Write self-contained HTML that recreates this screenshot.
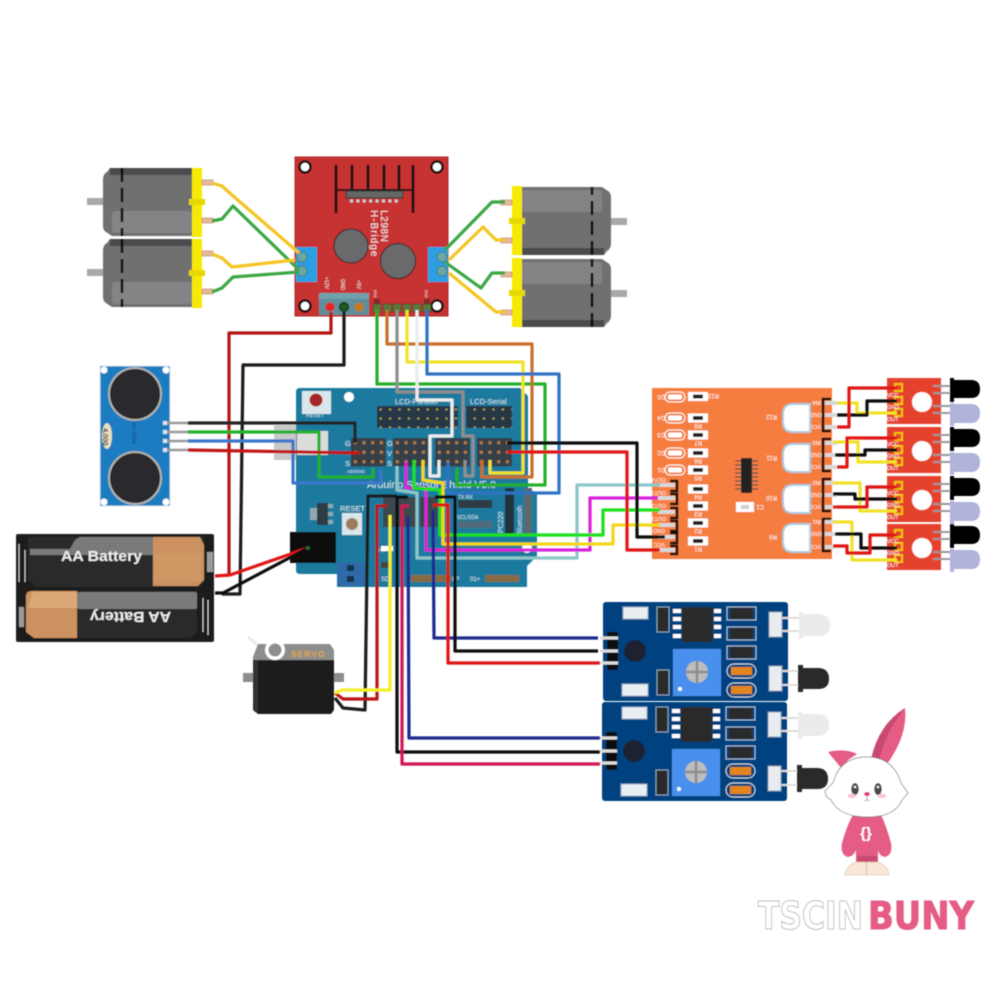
<!DOCTYPE html>
<html><head><meta charset="utf-8"><style>
html,body{margin:0;padding:0;background:#fff}
svg{display:block}
text{font-family:"Liberation Sans",sans-serif}
</style></head><body>
<svg width="1000" height="1000" viewBox="0 0 1000 1000" xmlns="http://www.w3.org/2000/svg">
<defs>
<filter id="b" x="-5%" y="-5%" width="110%" height="110%"><feGaussianBlur stdDeviation="0.55"/></filter>
<g id="motor">
<rect x="87" y="198" width="17" height="7" fill="#a8a8a8"/>
<path d="M103,180 Q103,174 107,172 L110,168 H192 V236 H112 L106,232 Q103,230 103,226Z" fill="#6f6f71"/>
<rect x="110" y="168" width="82" height="7" fill="#4b4b4d"/>
<rect x="112" y="211" width="80" height="22" rx="3" fill="#848486"/>
<line x1="122" y1="168" x2="122" y2="236" stroke="#111" stroke-width="2.6" stroke-dasharray="14 6"/>
<rect x="192" y="168" width="10" height="69" fill="#f7e900"/>
<rect x="189" y="199" width="16" height="6" fill="#e6d800"/>
<rect x="202" y="180" width="11" height="5" fill="#e8b89c" stroke="#b5805f" stroke-width=".6"/>
<rect x="202" y="218" width="11" height="5" fill="#e8b89c" stroke="#b5805f" stroke-width=".6"/>
</g>
<pattern id="pins" width="8.7" height="9.5" patternUnits="userSpaceOnUse">
<rect width="8.7" height="9.5" fill="#34404a"/>
<circle cx="4.3" cy="4.7" r="1.7" fill="#b5793f"/>
</pattern>
<pattern id="dots" width="9.4" height="9" patternUnits="userSpaceOnUse">
<rect width="9.4" height="9" fill="#263744"/>
<circle cx="4.7" cy="4.5" r="1.1" fill="#c4a64a"/>
</pattern>
<g id="ir">
<rect x="0" y="0" width="54" height="46" fill="#e5432e"/>
<circle cx="35" cy="24" r="10" fill="#fff"/>
<rect x="8" y="6" width="7" height="7" fill="none" stroke="#f2c200" stroke-width="2"/>
<rect x="8" y="19" width="7" height="7" fill="none" stroke="#f2c200" stroke-width="2"/>
<rect x="8" y="31" width="7" height="7" fill="none" stroke="#f2c200" stroke-width="2"/>
<g stroke="#999" stroke-width="2">
<line x1="46" y1="8" x2="64" y2="8"/><line x1="46" y1="15" x2="64" y2="15"/>
<line x1="46" y1="28" x2="64" y2="28"/><line x1="46" y1="35" x2="64" y2="35"/>
</g>
<path d="M63,0 H67 V2 H84 Q93,2 93,11 Q93,20 84,20 H67 V24 H63Z" fill="#050505"/>
<path d="M63,25 H67 V26 H84 Q93,26 93,35 Q93,45 84,45 H67 V48 H63Z" fill="#b0b3da"/>
</g>
<g id="sensor">
<rect x="603" y="602" width="185" height="99" rx="3" fill="#04427f"/>
<rect x="623" y="607" width="25" height="12" fill="#e9eef3" stroke="#8ba3bb"/>
<rect x="622" y="684" width="26" height="12" fill="#e9eef3" stroke="#8ba3bb"/>
<circle cx="635" cy="651" r="11" fill="#1b2430"/>
<rect x="607" y="632" width="11" height="38" rx="2" fill="#0a0a0a"/>
<g fill="#ddd"><rect x="600" y="636.500" width="18" height="3"/><rect x="600" y="649.500" width="18" height="3"/><rect x="600" y="661.500" width="18" height="3"/></g>
<rect x="657" y="607" width="12" height="25" fill="#2b2b2b" stroke="#8ba3bb"/>
<rect x="657" y="670" width="12" height="25" fill="#2b2b2b" stroke="#8ba3bb"/>
<rect x="682" y="607" width="31" height="35" rx="1" fill="#2b2b2b"/>
<g fill="#fff">
<rect x="673" y="609" width="8" height="4"/><rect x="673" y="617" width="8" height="4"/><rect x="673" y="625" width="8" height="4"/><rect x="673" y="634" width="8" height="4"/>
<rect x="714" y="609" width="7" height="4"/><rect x="714" y="617" width="7" height="4"/><rect x="714" y="625" width="7" height="4"/><rect x="714" y="634" width="7" height="4"/>
</g>
<rect x="673" y="649" width="48" height="47" fill="#4a90ee"/>
<circle cx="697" cy="672" r="11" fill="#bdbdbd"/>
<path d="M697,661 V683 M686,672 H708" stroke="#8c8c8c" stroke-width="2.500"/>
<circle cx="680" cy="689" r="2" fill="#fff"/>
<g fill="none" stroke="#a9bccd">
<rect x="727" y="607" width="29" height="13"/><rect x="727" y="627" width="29" height="13"/><rect x="727" y="646" width="29" height="13"/>
</g>
<g fill="#2b2b2b">
<rect x="730" y="608" width="23" height="11"/><rect x="730" y="628" width="23" height="11"/><rect x="730" y="647" width="23" height="11"/>
</g>
<g fill="none" stroke="#cfd8e0">
<rect x="727" y="664" width="29" height="14" rx="7"/><rect x="727" y="683" width="29" height="14" rx="7"/>
</g>
<rect x="731" y="667" width="21" height="8" fill="#e2851f"/><rect x="731" y="686" width="21" height="8" fill="#e2851f"/>
<rect x="769" y="612" width="13" height="25" fill="#e8ecf0" stroke="#7e9ab6"/>
<rect x="769" y="666" width="13" height="25" fill="#e8ecf0" stroke="#7e9ab6"/>
<line x1="782" y1="618" x2="802" y2="618" stroke="#ddd" stroke-width="2"/><line x1="782" y1="631" x2="802" y2="631" stroke="#ddd" stroke-width="2"/>
<line x1="782" y1="671" x2="800" y2="671" stroke="#ddd" stroke-width="2"/><line x1="782" y1="685" x2="800" y2="685" stroke="#ddd" stroke-width="2"/>
<path d="M799,612 H803 V614 H818 Q830,614 830,625 Q830,636 818,636 H803 V639 H799Z" fill="#ebebeb"/>
<path d="M798,665 H803 V668 H818 Q829,668 829,679 Q829,689 818,689 H803 V692 H798Z" fill="#2b2b2b"/>
</g>
</defs>
<rect width="1000" height="1000" fill="#fff"/>
<g filter="url(#b)">

<!-- motors -->
<use href="#motor"/>
<use href="#motor" y="71"/>
<use href="#motor" transform="translate(714,423) scale(-1,-1)"/>
<use href="#motor" transform="translate(714,495) scale(-1,-1)"/>

<!-- L298 -->
<rect x="295" y="157" width="153" height="159" fill="#c73031" stroke="#a82527"/>
<g fill="#fff" stroke="#111" stroke-width="2.500">
<circle cx="305" cy="167" r="5.500"/><circle cx="437" cy="167" r="5.500"/><circle cx="305" cy="306" r="5.500"/><circle cx="437" cy="306" r="5.500"/>
</g>
<g stroke="#151515" stroke-width="3">
<line x1="336" y1="165" x2="336" y2="213"/><line x1="352" y1="165" x2="352" y2="191"/><line x1="368" y1="165" x2="368" y2="191"/><line x1="384" y1="165" x2="384" y2="191"/><line x1="399" y1="165" x2="399" y2="191"/><line x1="413" y1="165" x2="413" y2="213"/>
<line x1="336" y1="190" x2="413" y2="190" stroke-width="2"/>
</g>
<rect x="346" y="191" width="57" height="7" fill="#666" stroke="#333"/>
<line x1="350" y1="201" x2="400" y2="201" stroke="#ccc" stroke-width="3" stroke-dasharray="3 3.400"/>
<circle cx="351" cy="246" r="17" fill="#6b6b6d" stroke="#222"/>
<circle cx="398" cy="261" r="17.500" fill="#6b6b6d" stroke="#222"/>
<text transform="translate(381,210) rotate(90)" font-size="10" fill="#eee" letter-spacing=".6">L298N</text>
<text transform="translate(371,210) rotate(90)" font-size="10" fill="#eee" letter-spacing="1">H-Bridge</text>
<rect x="296" y="247" width="21" height="35" fill="#2b9fe3"/>
<rect x="428" y="247" width="20" height="35" fill="#2b9fe3"/>
<g fill="#6aa8a6" stroke="#4a7f80"><circle cx="302" cy="257" r="5"/><circle cx="302" cy="271" r="5"/><circle cx="442" cy="257" r="5"/><circle cx="442" cy="271" r="5"/></g>
<rect x="319" y="293" width="50" height="22" fill="#5f8d99"/>
<rect x="319" y="293" width="50" height="6" fill="#6fa0aa"/>
<circle cx="330" cy="307" r="4.500" fill="#e62020"/><circle cx="344" cy="307" r="4.500" fill="#1c5a22" stroke="#111"/><circle cx="359" cy="307" r="4.500" fill="#c8791a"/>
<g fill="#eee" font-size="5">
<text transform="translate(325,277) rotate(90)">+12V</text><text transform="translate(341,279) rotate(90)">GND</text><text transform="translate(357,280) rotate(90)">+5V</text>
<text transform="translate(374,290) rotate(90)" font-size="4">EN1</text><text transform="translate(425,290) rotate(90)" font-size="4">EN2</text>
</g>
<rect x="374" y="299" width="6" height="6" fill="#7d2a2a"/><rect x="424" y="299" width="6" height="6" fill="#7d2a2a"/>
<g fill="#5a7a3a" stroke="#333" stroke-width=".5"><rect x="373" y="304" width="8" height="8"/><rect x="383.500" y="304" width="8" height="8"/><rect x="393" y="304" width="8" height="8"/><rect x="403" y="304" width="8" height="8"/><rect x="413" y="304" width="8" height="8"/><rect x="423" y="304" width="8" height="8"/></g>

<!-- motor wires -->
<g fill="none" stroke-width="3.2" stroke-linejoin="round">
<path d="M212,183 L222,186 L232,195 L299,253" stroke="#f4c524"/>
<path d="M212,221 L222,219 L233,206 L299,270" stroke="#3aa745"/>
<path d="M212,254 L222,258 L232,267 L295,260" stroke="#f4c524"/>
<path d="M212,292 L222,288 L233,277 L299,272" stroke="#3aa745"/>
<path d="M505,202 H492 L445,250" stroke="#3aa745"/>
<path d="M505,240 H496 L483,227 L449,260" stroke="#f4c524"/>
<path d="M505,273 H492 L481,288 L445,262" stroke="#3aa745"/>
<path d="M505,312 H496 L449,273" stroke="#f4c524"/>
</g>

<!-- shield -->
<rect x="274" y="425" width="54" height="35" fill="#c9c9c9"/>
<path d="M296,392 Q296,388 300,388 H520 L528,396 V490 L537,492 V556 L527,566 V587 H337 V574 H300 Q296,574 296,570Z" fill="#1a7a9f"/>
<rect x="297" y="431" width="31" height="24" fill="#dcdcdc"/>
<rect x="302" y="391" width="29" height="23" fill="#d9e6ea"/>
<circle cx="316" cy="400" r="6.500" fill="#a8272a"/>
<text x="306" y="417" font-size="5.500" fill="#cfe3ea">RESET</text>
<circle cx="349" cy="397" r="5" fill="#fff"/>
<rect x="377" y="406" width="81" height="22" fill="#263744"/>
<rect x="377" y="406" width="81" height="22" fill="url(#dots)" transform="translate(0,0)"/>
<rect x="466" y="406" width="46" height="22" fill="url(#dots)"/>
<text x="395" y="404" font-size="7.500" fill="#cfe3ea">LCD-Parallel</text>
<text x="470" y="404" font-size="7.500" fill="#cfe3ea">LCD-Serial</text>
<g transform="translate(351,438)"><rect width="34.800" height="28.500" fill="url(#pins)"/></g>
<g transform="translate(393,438)"><rect width="34.800" height="28.500" fill="url(#pins)"/></g>
<g transform="translate(435,438)"><rect width="34.800" height="28.500" fill="url(#pins)"/></g>
<g transform="translate(477,438)"><rect width="34.800" height="28.500" fill="url(#pins)"/></g>
<g font-size="7.500" fill="#d5e8ee">
<text x="345" y="446">G</text><text x="345" y="466">S</text><text x="387" y="446">G</text><text x="387" y="456">V</text><text x="387" y="466">S</text>
<text x="347" y="473" font-size="4.500">ABI/END</text>
<text x="367" y="488" font-size="10.500">Arduino Sensor Shield V5.0</text>
<text x="340" y="511" font-size="7.500">RESET</text>
<text x="458" y="499" font-size="5">TX RX</text><text x="457" y="519" font-size="5">SCL/SDA</text>
<text transform="translate(503,533) rotate(-90)" font-size="7">PC220</text>
<text transform="translate(522,535) rotate(-90)" font-size="7">Bluetooth</text>
<text x="381" y="581" font-size="6">SD</text><text x="452" y="581" font-size="6">IIP</text><text x="470" y="581" font-size="6">01+</text>
<text x="378" y="552" font-size="4.500">Pwr</text>
</g>
<rect x="317" y="503" width="11" height="22" fill="#2d3b44"/>
<rect x="310" y="508" width="7" height="12" fill="#8fa8b0"/>
<g fill="#8fa8b0"><rect x="328" y="504" width="5" height="4"/><rect x="328" y="512" width="5" height="4"/><rect x="328" y="520" width="5" height="4"/></g>
<rect x="342" y="513" width="20" height="22" fill="#d9e6ea"/>
<circle cx="352" cy="524" r="6" fill="#a07a5c"/>
<rect x="290" y="532" width="46" height="31" fill="#111"/>
<rect x="337" y="562" width="28" height="24" fill="#2d6aa8"/>
<rect x="347" y="565" width="7" height="6" fill="#18324e"/><rect x="347" y="576" width="7" height="6" fill="#18324e"/>
<rect x="383" y="497" width="36" height="30" fill="#3b4850"/>
<rect x="420" y="497" width="18" height="30" fill="#3b4850"/>
<rect x="458" y="500" width="34" height="8" fill="#2d3b44"/>
<rect x="458" y="521" width="34" height="7" fill="#4f6a78"/>
<rect x="505" y="488" width="9" height="47" fill="#22303a"/>
<rect x="524" y="488" width="8" height="47" fill="#5a6a70"/>
<g fill="#8a6a44"><rect x="411" y="575" width="40" height="7"/><rect x="485" y="575" width="34" height="7"/></g>
<circle cx="527" cy="548" r="5" fill="#fff"/>
<rect x="381" y="546" width="12" height="5" fill="#fff"/>
<rect x="381" y="562" width="10" height="6" fill="#444"/>

<!-- ultrasonic -->
<rect x="100" y="366" width="70" height="140" fill="#1c7cc2" stroke="#dfe9f1" stroke-width=".8"/>
<g fill="#fff"><circle cx="104" cy="370" r="3.500"/><circle cx="166" cy="370" r="3.500"/><circle cx="104" cy="502" r="3.500"/><circle cx="166" cy="502" r="3.500"/></g>
<circle cx="135" cy="394" r="26" fill="#2b2b2d" stroke="#b3b3ad" stroke-width="2"/>
<circle cx="135" cy="478" r="26" fill="#2b2b2d" stroke="#b3b3ad" stroke-width="2"/>
<ellipse cx="107" cy="436" rx="5" ry="13" fill="#e8dfbf"/>
<text transform="translate(103,428) rotate(90)" font-size="7" fill="#333" font-weight="bold">4.000</text>
<text transform="translate(132,422) rotate(90)" font-size="5" fill="#0d3d66">HC-SR04</text>
<g fill="#dbe6ee"><rect x="163" y="421" width="4" height="4"/><rect x="163" y="430" width="4" height="4"/><rect x="163" y="439" width="4" height="4"/><rect x="163" y="448" width="4" height="4"/></g>
<g stroke="#999" stroke-width="2.500"><line x1="167" y1="423" x2="188" y2="423"/><line x1="167" y1="432" x2="188" y2="432"/><line x1="167" y1="441" x2="188" y2="441"/><line x1="167" y1="450" x2="188" y2="450"/></g>

<!-- battery -->
<rect x="16" y="534" width="198" height="108" rx="2" fill="#1a1a1a"/>
<path d="M28,541 Q28,537 32,537 H204 V580 L198,587 H36 L28,580Z" fill="#2c2c2c"/>
<path d="M153,537 H200 L204,545 V580 L198,586 H153Z" fill="#cb9160"/>
<path d="M75,540 L80,537 H153 V555 H30 V549 H70Z" fill="#7a7a7a"/>
<rect x="153" y="553" width="48" height="28" fill="#cf9764"/>
<text x="61" y="561" font-size="15" fill="#eee" textLength="81" font-weight="bold" lengthAdjust="spacingAndGlyphs">AA Battery</text>
<path d="M26,596 Q26,591 32,591 H197 V632 L190,638 H34 L26,632Z" fill="#2c2c2c"/>
<path d="M26,596 Q26,591 32,591 H77 V638 H34 L26,632Z" fill="#cb9160"/>
<path d="M32,592 H77 V608 H28Z" fill="#dba878"/>
<rect x="77" y="592" width="120" height="17" rx="2" fill="#7a7a7a"/>
<text transform="translate(171,612) rotate(180)" font-size="15" fill="#eee" textLength="81" font-weight="bold" lengthAdjust="spacingAndGlyphs">AA Battery</text>
<g stroke="#ccc" stroke-width="1" fill="none">
<path d="M19,544 V582 M25,550 V582 M208,600 V635 M203,598 V632"/>
</g>
<rect x="207" y="552" width="6" height="20" fill="#9a9a9a"/><rect x="19" y="607" width="5" height="20" fill="#9a9a9a"/>

<!-- servo -->
<path d="M248,637 L267,653" stroke="#e8e8e8" stroke-width="2.500"/>
<path d="M253,657 L258,644 H330 L334,650 V662 H253Z" fill="#8d8d8d"/>
<rect x="243" y="673" width="101" height="9" fill="#8d8d8d"/>
<path d="M253,660 H334 V710 L331,714 H258 L253,710Z" fill="#1b1b1b"/>
<path d="M253,660 H258 V714 L253,710Z" fill="#333"/>
<circle cx="275" cy="650" r="10" fill="#fff"/><circle cx="275" cy="650" r="6.500" fill="#8d8d8d"/>
<text x="291" y="657" font-size="8.500" font-weight="bold" fill="#e2a92e" letter-spacing="1">SERVO</text>

<!-- line-follower board -->
<rect x="652" y="388" width="180" height="171" fill="#f67d3f"/>
<g fill="none" stroke="#fff" stroke-width="1">
<rect x="665" y="392" width="20" height="10" rx="5"/><rect x="665" y="413" width="20" height="10" rx="5"/><rect x="665" y="430" width="20" height="10" rx="5"/><rect x="665" y="448" width="20" height="10" rx="5"/><rect x="665" y="465" width="20" height="10" rx="5"/>
</g>
<g fill="#fff">
<rect x="668" y="394.500" width="14" height="5" rx="2"/><rect x="668" y="415.500" width="14" height="5" rx="2"/><rect x="668" y="432.500" width="14" height="5" rx="2"/><rect x="668" y="450.500" width="14" height="5" rx="2"/><rect x="668" y="467.500" width="14" height="5" rx="2"/>
</g>
<g fill="#fff">
<rect x="688" y="392" width="20" height="9"/><rect x="688" y="413.500" width="20" height="9"/><rect x="688" y="430.500" width="20" height="9"/><rect x="688" y="448.500" width="20" height="9"/><rect x="688" y="465.500" width="20" height="9"/><rect x="688" y="484.500" width="20" height="9"/><rect x="688" y="501.500" width="20" height="9"/><rect x="688" y="518.500" width="20" height="9"/><rect x="688" y="536.500" width="20" height="9"/>
</g>
<g fill="#222">
<rect x="693" y="394.500" width="10" height="4"/><rect x="693" y="416" width="10" height="4"/><rect x="693" y="433" width="10" height="4"/><rect x="693" y="451" width="10" height="4"/><rect x="693" y="468" width="10" height="4"/><rect x="693" y="487" width="10" height="4"/><rect x="693" y="504" width="10" height="4"/><rect x="693" y="521" width="10" height="4"/><rect x="693" y="539" width="10" height="4"/>
</g>
<g font-size="6" fill="#fff">
<g transform="rotate(180 660 397)"><text x="655" y="399">D5</text></g>
<g transform="rotate(180 660 418)"><text x="655" y="420">D4</text></g>
<g transform="rotate(180 660 435)"><text x="655" y="437">D3</text></g>
<g transform="rotate(180 660 453)"><text x="655" y="455">D2</text></g>
<g transform="rotate(180 660 470)"><text x="655" y="472">D1</text></g>
<g transform="rotate(180 714 396)"><text x="709" y="398">R13</text></g>
<g transform="rotate(180 698 426)"><text x="694" y="428">R8</text></g>
<g transform="rotate(180 698 443)"><text x="694" y="445">R7</text></g>
<g transform="rotate(180 698 461)"><text x="694" y="463">R6</text></g>
<g transform="rotate(180 698 478)"><text x="694" y="480">R5</text></g>
<g transform="rotate(180 698 497)"><text x="694" y="499">R4</text></g>
<g transform="rotate(180 698 514)"><text x="694" y="516">R3</text></g>
<g transform="rotate(180 698 531)"><text x="694" y="533">R2</text></g>
<g transform="rotate(180 698 549)"><text x="694" y="551">R1</text></g>
<g transform="rotate(180 771 417)"><text x="765" y="419">R12</text></g>
<g transform="rotate(180 771 458)"><text x="765" y="460">R11</text></g>
<g transform="rotate(180 771 498)"><text x="765" y="500">R10</text></g>
<g transform="rotate(180 773 537)"><text x="769" y="539">R9</text></g>
<g transform="rotate(180 760 507)"><text x="756" y="509">C1</text></g>
</g>
<g stroke="#555" stroke-width="1.200"><path d="M735,461 H758 M735,465 H758 M735,469 H758 M735,473 H758 M735,477 H758 M735,481 H758 M735,485 H758 M735,489 H758"/></g>
<rect x="741" y="458" width="11" height="35" fill="#222"/>
<rect x="736" y="502" width="18" height="10" fill="#fff"/><rect x="741" y="505" width="8" height="4" fill="#ccc"/>
<g fill="#fff" stroke="#a9cbe0" stroke-width="2">
<path d="M810,404 H793 Q783,404 783,414 V422 Q783,432 793,432 H810Z"/>
<path d="M810,444 H793 Q783,444 783,454 V462 Q783,472 793,472 H810Z"/>
<path d="M810,485 H793 Q783,485 783,495 V503 Q783,513 793,513 H810Z"/>
<path d="M810,524 H793 Q783,524 783,534 V542 Q783,552 793,552 H810Z"/>
</g>
<g fill="none" stroke="#111" stroke-width="2.500">
<path d="M831,399 H823 V431 H831 M831,439 H823 V471 H831 M831,479 H823 V511 H831 M831,519 H823 V551 H831"/>
<path d="M670,481 H677 V491 H670 M670,494 H677 V504 H670 M670,508 H677 V518 H670 M670,521 H677 V531 H670 M670,533 H677 V543 H670 M670,546 H677 V554 H670"/>
</g>
<g fill="#d8d8d8">
<rect x="825" y="401" width="12" height="4"/><rect x="825" y="413" width="12" height="4"/><rect x="825" y="425" width="12" height="4"/>
<rect x="825" y="441" width="12" height="4"/><rect x="825" y="453" width="12" height="4"/><rect x="825" y="465" width="12" height="4"/>
<rect x="825" y="481" width="12" height="4"/><rect x="825" y="493" width="12" height="4"/><rect x="825" y="505" width="12" height="4"/>
<rect x="825" y="520" width="12" height="4"/><rect x="825" y="532" width="12" height="4"/><rect x="825" y="545" width="12" height="4"/>
<rect x="658" y="483" width="17" height="4"/><rect x="658" y="496" width="17" height="4"/><rect x="658" y="510" width="17" height="4"/><rect x="658" y="523" width="17" height="4"/><rect x="658" y="535" width="17" height="4"/><rect x="658" y="548" width="17" height="4"/>
</g>
<g font-size="5.500" fill="#fff">
<g transform="rotate(180 816 403)"><text x="811" y="405">IN4</text></g><g transform="rotate(180 816 415)"><text x="810" y="417">GND</text></g><g transform="rotate(180 816 427)"><text x="811" y="429">VCC</text></g>
<g transform="rotate(180 816 443)"><text x="811" y="445">IN3</text></g><g transform="rotate(180 816 455)"><text x="810" y="457">GND</text></g><g transform="rotate(180 816 467)"><text x="811" y="469">VCC</text></g>
<g transform="rotate(180 816 483)"><text x="811" y="485">IN2</text></g><g transform="rotate(180 816 495)"><text x="810" y="497">GND</text></g><g transform="rotate(180 816 507)"><text x="811" y="509">VCC</text></g>
<g transform="rotate(180 816 522)"><text x="811" y="524">IN1</text></g><g transform="rotate(180 816 534)"><text x="810" y="536">GND</text></g><g transform="rotate(180 816 547)"><text x="811" y="549">VCC</text></g>
<g transform="rotate(180 660 480)"><text x="654" y="482">OUT4</text></g><g transform="rotate(180 660 493)"><text x="654" y="495">OUT3</text></g><g transform="rotate(180 660 506)"><text x="654" y="508">OUT2</text></g><g transform="rotate(180 660 519)"><text x="654" y="521">OUT1</text></g><g transform="rotate(180 660 531)"><text x="655" y="533">GND</text></g><g transform="rotate(180 660 545)"><text x="655" y="547">VCC</text></g>
</g>

<!-- small IR boards -->
<use href="#ir" x="887" y="378"/>
<use href="#ir" x="887" y="427"/>
<use href="#ir" x="887" y="476"/>
<use href="#ir" x="887" y="524"/>
<g font-size="5.500" fill="#fff">
<text x="887" y="397">VCC</text><text x="887" y="409">GND</text><text x="887" y="421">OUT</text>
<text x="887" y="446">VCC</text><text x="887" y="458">GND</text><text x="887" y="470">OUT</text>
<text x="887" y="495">VCC</text><text x="887" y="507">GND</text><text x="887" y="519">OUT</text>
<text x="887" y="543">VCC</text><text x="887" y="555">GND</text><text x="887" y="567">OUT</text>
</g>

<!-- IR sensors -->
<use href="#sensor"/>
<use href="#sensor" transform="translate(-1,100)"/>

<!-- wires -->
<g fill="none" stroke-width="3.200" stroke-linejoin="round">
<!-- L298 logic -->
<path d="M377,310 V384 H545 V485 H457 V468" stroke="#22b02a"/>
<path d="M387,310 V344 H532 V477 H482 V460" stroke="#c9702c"/>
<path d="M397,310 V392 H463 V436 H473 V476 H465 V460" stroke="#8e8e8e"/>
<path d="M407,310 V362 H523 V473 H490 V460" stroke="#f0e22c"/>
<path d="M417,310 V400 H452 V436 H430 V476 H439 V460" stroke="#ececec"/>
<path d="M427,310 V374 H559 V493 H448 V462" stroke="#2f73c4"/>
<!-- power -->
<path d="M331,312 V333 H229 V575" stroke="#b41616"/>
<path d="M344,312 V365 H243 L240,594 H222" stroke="#1a1a1a"/>
<path d="M215,576 L230,575 L308,548" stroke="#e01414"/>
<path d="M215,593 H223 L308,548" stroke="#111"/>
<!-- ultrasonic -->
<path d="M188,423 H355 V443" stroke="#222"/>
<path d="M188,432 H319 V477 H373 V468" stroke="#22b02a"/>
<path d="M188,441 H293 V483 H381 V470" stroke="#3a78cc"/>
<path d="M188,450 L360,453" stroke="#c21212"/>
<!-- line follower -->
<path d="M397,466 V490 L417,493 V558 H577 V485 H660" stroke="#8cc6c8"/>
<path d="M406,462 V488 H426 V550 H590 V498 H658" stroke="#d921d9"/>
<path d="M414,460 V488 L440,490 V535 H603 V510 H660" stroke="#1fe01f"/>
<path d="M423,460 V480 L443,483 V544 H613 V525 H660" stroke="#f2d61e"/>
<path d="M507,443 H637 V537 H665" stroke="#0a0a0a"/>
<path d="M507,452 H627 V550 H660" stroke="#e01414"/>
<!-- servo -->
<path d="M397,496 H368 L365,710 L343,708 L335,698" stroke="#1a1a1a"/>
<path d="M387,506 H377 V699 H343 L335,693" stroke="#b81414"/>
<path d="M390,515 V690 H342 L335,693" stroke="#f5ef2c"/>
<!-- IR sensors -->
<path d="M408,497 H397 V752 H600" stroke="#0a0a0a"/>
<path d="M409,506 H402 V764 H600" stroke="#d01556"/>
<path d="M408,517 L409,738 H600" stroke="#1b2a8f"/>
<path d="M433,510 L434,638 H598" stroke="#1b2a8f"/>
<path d="M435,497 H455 V651 H598" stroke="#0a0a0a"/>
<path d="M433,505 H448 V663 H600" stroke="#e01414"/>
<!-- tracker to IR -->
<path d="M837,403 H857 V413 H897" stroke="#f2e22c"/>
<path d="M837,415 H867 V401 H897" stroke="#111"/>
<path d="M837,427 H849 V388 H897" stroke="#e01414"/>
<path d="M833,442 H858 V462 H897" stroke="#f2e22c"/>
<path d="M835,455 H865 V450 H897" stroke="#111"/>
<path d="M837,467 H847 V438 H897" stroke="#e01414"/>
<path d="M833,483 H860 V511 H897" stroke="#f2e22c"/>
<path d="M833,494 H855 V499 H897" stroke="#111"/>
<path d="M833,507 H867 V487 H897" stroke="#e01414"/>
<path d="M833,522 H852 V560 H897" stroke="#f2e22c"/>
<path d="M835,534 H861 V548 H897" stroke="#111"/>
<path d="M833,546 H847 V553 H870 V535 H897" stroke="#e01414"/>
</g>
<circle cx="308" cy="548" r="2" fill="#1c6a28"/>

<!-- bunny -->
<path d="M871,760 Q878,725 905,708 Q908,735 887,764Z" fill="#e55c85"/>
<path d="M871,760 Q878,725 905,708 Q884,735 880,758Z" fill="#c9486f"/>
<path d="M828,752 Q845,748 857,754 L848,760 L842,769Z" fill="#e55c85"/>
<path d="M853,815 H881 Q886,825 891,843 Q893,855 885,857 Q879,856 878,850 V862 H856 V850 Q854,856 848,857 Q840,855 842,843 Q847,825 853,815Z" fill="#e55c85"/>
<path d="M857,862 H877 V856 H857Z" fill="#c9486f"/>
<path d="M845,875 Q846,866 856,862 H866 V875Z M867,875 V862 H878 Q888,866 889,875Z" fill="#fbe7d5" stroke="#d9b89e" stroke-width=".6"/>
<path d="M825,791 L833,783 Q840,757 867,757 Q893,757 901,783 L908,793 L902,800 Q895,817 867,817 Q840,817 831,800 L826,796Z" fill="#fff" stroke="#777" stroke-width=".7"/>
<ellipse cx="855" cy="789" rx="3.800" ry="6" fill="#4a4a4a"/><ellipse cx="878" cy="789" rx="3.800" ry="6" fill="#4a4a4a"/>
<circle cx="855" cy="787" r="1.200" fill="#fff"/><circle cx="878" cy="787" r="1.200" fill="#fff"/>
<ellipse cx="852" cy="796" rx="4.500" ry="2.200" fill="#f9c6d2"/><ellipse cx="882" cy="796" rx="4.500" ry="2.200" fill="#f9c6d2"/>
<ellipse cx="867" cy="794" rx="3" ry="2" fill="#e5356d"/>
<path d="M867,796 V799 M864,801 Q866,801 867,799 Q868,801 870,801" stroke="#777" stroke-width=".6" fill="none"/>
<text x="866" y="838" font-size="15" font-weight="bold" text-anchor="middle" fill="#fff">{}</text>

<!-- logo -->
<text x="758" y="929" font-size="38" font-weight="bold" style="font-family:'DejaVu Sans',sans-serif" textLength="105" lengthAdjust="spacingAndGlyphs" fill="#fff" stroke="#aaa" stroke-width=".8">TSCIN</text>
<text x="868" y="929" font-size="38" font-weight="bold" style="font-family:'DejaVu Sans',sans-serif" textLength="106" lengthAdjust="spacingAndGlyphs" fill="#e55c85" stroke="#e55c85" stroke-width="1">BUNY</text>
</g>
</svg>
</body></html>
